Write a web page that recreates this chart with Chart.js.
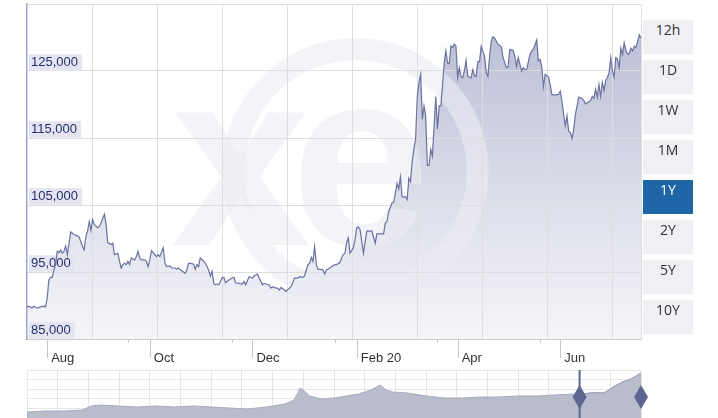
<!DOCTYPE html>
<html>
<head>
<meta charset="utf-8">
<script src="https://cdn.jsdelivr.net/npm/chart.js@4.4.1/dist/chart.umd.min.js"></script>
<style>
  body { margin:0; background:#fff; width:718px; height:418px; overflow:hidden; position:relative; }
  #mainCanvas { position:absolute; left:0; top:0; }
  #navCanvas { position:absolute; left:0; top:366px; }
  .btn { position:absolute; left:643px; width:50px; height:34px; line-height:34px; text-align:center;
         background:#f0f0f4; color:#333; font:14px "Open Sans", sans-serif; }
  .btn.on { background:#1f66a6; color:#fff; }
</style>
</head>
<body>
<canvas id="mainCanvas" width="718" height="366"></canvas>
<canvas id="navCanvas" width="718" height="52"></canvas>
<script>
// 1Y window, days counted from 2019-07-20
const dayOffsets = [0,2,3,4,6,8,10,11,12,13,14,15,16,17,18,19,20,21,22,23,24,25,26,28,30,31,33,34,35,36,37,38,39,40,42,43,44,46,47,48,50,51,52,54,55,56,57,58,59,60,61,62,64,65,66,67,68,70,71,72,73,74,76,77,78,79,81,82,83,85,86,88,89,90,92,94,95,96,97,99,100,101,102,103,105,106,108,109,110,111,112,113,114,116,117,118,120,122,123,124,126,128,129,130,132,134,135,137,138,139,140,141,143,144,145,146,148,149,150,151,153,154,156,157,158,159,161,162,164,165,166,167,168,169,170,171,172,173,175,176,177,178,180,181,183,184,186,187,188,189,190,191,192,194,195,196,197,198,200,202,205,207,208,212,213,214,215,217,218,219,220,221,222,223,225,226,227,228,229,230,231,232,233,234,235,236,237,238,239,240,241,242,243,244,245,246,247,248,249,250,251,252,253,254,255,256,257,258,259,260,261,262,264,265,266,267,268,269,270,272,273,274,275,276,277,278,280,282,283,285,286,287,289,290,291,292,294,295,296,297,299,300,301,303,304,305,306,307,308,310,311,312,314,316,317,318,319,320,321,322,323,324,325,326,328,330,331,332,334,335,336,337,338,339,340,341,342,343,344,345,346,347,348,349,350,351,352,353,354,355,356,357,358,359,360,361,362,363,364,365];
const rates = [89900,89800,89600,89900,89600,89800,89900,89800,91100,93800,94200,94200,95300,96100,98100,97900,98300,97800,98100,98900,97600,99300,101000,100600,100400,100200,98800,98300,100300,101100,102500,101200,102800,102100,101600,101800,102300,103600,102100,99400,99100,99300,97600,97800,96600,95600,96100,96300,96100,96600,96100,97100,96800,97300,98100,97100,96800,96800,96600,95800,96800,98200,97600,97300,97600,97300,98600,96300,95800,95900,95600,95600,95400,95600,95200,94800,95300,96300,96300,96200,95400,96100,95800,97100,96600,96300,95300,94400,95100,93300,93100,93200,93100,94100,94200,93400,93800,94100,94200,93400,93300,93200,93600,93100,94300,94100,94400,94700,94100,93600,93100,93300,93100,93100,92600,92800,92600,92600,92300,92700,92300,92100,92600,92800,93400,94100,94100,94300,94200,94400,95300,96100,96300,97200,96600,98800,96100,95400,95400,95300,94700,95300,95600,95800,96100,96100,96400,97100,97600,97800,99400,100100,97800,98600,99800,101600,101700,101300,97800,101100,101100,99300,100700,100700,102300,102500,104000,105300,105400,106800,108200,107400,109200,106200,106200,105800,109000,108500,111500,113300,114800,121200,123300,124500,117800,119800,118300,110900,110900,113300,112300,116800,121200,116300,119800,119800,122700,126200,128000,126200,126100,128700,128500,129000,128700,124000,125500,124200,124000,125000,126600,124200,124000,125200,124300,124200,126400,126400,128700,127200,124800,124200,127200,129500,130100,129900,129000,128600,127000,125500,125600,128200,128100,127200,125700,127000,125000,125500,125200,125200,127500,128000,128200,129600,126500,126700,125700,122700,124500,124100,123000,121500,121400,121500,122000,120500,118500,116800,118300,116000,115800,114900,116300,118500,121100,120900,120600,120100,120400,120600,121200,120900,122300,121100,123000,121200,123300,122100,123600,124000,124700,127000,125000,124100,127000,126800,125500,128400,127500,129200,128100,127500,127600,128400,128000,128700,128500,129500,130400,129900];

const monthTickDays = [12, 73, 134, 196, 256, 317];
const monthTickLabels = ['Aug', 'Oct', 'Dec', 'Feb 20', 'Apr', 'Jun'];
const minorTickDays = [60, 122, 183, 244, 305];
const rateTicks = [85000, 95000, 105000, 115000, 125000];
const rateGrid = [85000, 95000, 105000, 115000, 125000, 135000];
const gridDays = [38.65, 77.3, 115.95, 154.6, 193.25, 231.9, 270.55, 309.2, 347.85, 365];

// navigator: 10 years, in years from mid 2010
const navYears = [0,0.3,0.6,0.9,1.05,1.2,1.5,1.8,2.1,2.4,2.7,3.0,3.3,3.6,3.9,4.2,4.35,4.45,4.5,4.6,4.8,5.0,5.2,5.4,5.6,5.75,5.85,5.95,6.2,6.5,6.8,7.1,7.4,7.7,8.0,8.3,8.6,8.9,9.0,9.2,9.4,9.5,9.6,9.7,9.8,9.9,10];
const navRates = [51900,53900,53900,55800,63800,65700,63800,61800,63800,61800,63800,61800,59800,57800,61800,67700,75600,99400,95400,83600,77600,79600,83600,87500,95400,105300,95400,91500,89500,83600,79600,79600,81600,81600,83600,83600,85500,87500,87500,89500,89500,97400,105300,111300,115200,121200,129100];
const navWindowStart = 9;

const rangeButtons = ['12h', '1D', '1W', '1M', '1Y', '2Y', '5Y', '10Y'];
const selectedRange = '1Y';

rangeButtons.forEach((label, i) => {
    const b = document.createElement('div');
    b.className = 'btn' + (label === selectedRange ? ' on' : '');
    b.style.top = (20 + i * 40) + 'px';
    b.textContent = label;
    document.body.appendChild(b);
});

// faint "xe" mark, drawn over the fill but under grid and line
const watermark = {
    id: 'watermark',
    beforeDraw(chart) {
        const {ctx, chartArea: a} = chart;
        const w = a.right - a.left, h = a.bottom - a.top;
        ctx.save();
        ctx.beginPath();
        ctx.rect(a.left, a.top, w, h);
        ctx.clip();
        ctx.fillStyle = 'rgba(236,236,243,0.62)';
        ctx.strokeStyle = 'rgba(236,236,243,0.62)';
        ctx.font = 'bold 250px "Liberation Sans"';
        ctx.fillText('x', a.left + w * 0.235, a.top + h * 0.718);
        ctx.fillText('e', a.left + w * 0.43, a.top + h * 0.718);
        ctx.lineWidth = 22;
        ctx.beginPath();
        ctx.arc(a.left + w * 0.535, a.top + h * 0.5, h * 0.365, 0, Math.PI * 2);
        ctx.stroke();
        ctx.restore();
    }
};

// long month ticks and short in-between ticks under the axis
const axisTicks = {
    id: 'axisTicks',
    afterDraw(chart) {
        const {ctx, chartArea: a, scales} = chart;
        ctx.save();
        ctx.strokeStyle = '#c8c8c8';
        ctx.lineWidth = 1;
        monthTickDays.forEach(d => {
            const x = Math.round(scales.x.getPixelForValue(d)) + 0.5;
            ctx.beginPath(); ctx.moveTo(x, a.bottom); ctx.lineTo(x, a.bottom + 19); ctx.stroke();
        });
        minorTickDays.forEach(d => {
            const x = Math.round(scales.x.getPixelForValue(d)) + 0.5;
            ctx.beginPath(); ctx.moveTo(x, a.bottom); ctx.lineTo(x, a.bottom + 4); ctx.stroke();
        });
        ctx.restore();
    }
};

const fillGradient = (context) => {
    const {ctx, chartArea} = context.chart;
    if (!chartArea) return 'rgba(200,202,220,0.6)';
    const g = ctx.createLinearGradient(0, chartArea.top, 0, chartArea.bottom);
    g.addColorStop(0, 'rgb(182,186,211)');
    g.addColorStop(0.5, 'rgb(215,217,231)');
    g.addColorStop(1, 'rgb(245,245,249)');
    return g;
};

const noPad = s => { s.paddingTop = 0; s.paddingBottom = 0; s.paddingLeft = 0; s.paddingRight = 0; };

new Chart(document.getElementById('mainCanvas'), {
    type: 'line',
    data: {
        datasets: [{
            data: dayOffsets.map((d, i) => ({x: d, y: rates[i]})),
            borderColor: '#6a72a0',
            borderWidth: 1.2,
            pointRadius: 0,
            tension: 0,
            fill: 'start',
            backgroundColor: fillGradient
        }]
    },
    options: {
        responsive: false,
        animation: false,
        layout: {padding: {left: 27, right: 77, top: 4, bottom: 0}},
        plugins: {legend: {display: false}, tooltip: {enabled: false}, filler: {drawTime: 'beforeDraw'}},
        scales: {
            x: {
                type: 'linear', min: 0, max: 365,
                afterBuildTicks: s => { s.ticks = monthTickDays.map(v => ({value: v})); },
                afterFit: s => { s.height = 27; noPad(s); },
                ticks: {
                    callback: (v, i) => monthTickLabels[i],
                    align: 'start', labelOffset: 4, padding: 4, maxRotation: 0, autoSkip: false,
                    color: '#333', font: {family: 'Liberation Sans', size: 13}
                },
                grid: {display: false},
                border: {color: '#cfcfcf'}
            },
            xg: {
                type: 'linear', position: 'bottom', min: 0, max: 365,
                afterBuildTicks: s => { s.ticks = gridDays.map(v => ({value: v})); },
                afterFit: s => { s.height = 0; noPad(s); },
                ticks: {display: false},
                grid: {drawTicks: false, color: '#dedede'},
                border: {display: false}
            },
            y: {
                min: 85000, max: 135000,
                afterBuildTicks: s => { s.ticks = rateGrid.map(v => ({value: v})); },
                afterFit: s => { s.width = 0; noPad(s); },
                ticks: {display: false},
                grid: {color: '#dedede', drawTicks: false},
                border: {color: '#a3a3cf', width: 1.5}
            },
            yl: {
                position: 'left', min: 85000, max: 135000, z: 1,
                afterBuildTicks: s => { s.ticks = rateTicks.map(v => ({value: v})); },
                afterFit: s => { s.width = 0; noPad(s); },
                ticks: {
                    mirror: true, padding: 4, labelOffset: -9,
                    showLabelBackdrop: true, backdropColor: '#e5e5f1',
                    backdropPadding: {top: 0, bottom: 1, left: 2, right: 4},
                    color: '#252f6b', font: {family: 'Liberation Sans', size: 13},
                    callback: v => v.toLocaleString('en-US')
                },
                grid: {display: false},
                border: {display: false}
            }
        }
    },
    plugins: [watermark, axisTicks]
});

// navigator handles + window edge
const navWindow = {
    id: 'navWindow',
    afterDatasetsDraw(chart) {
        const {ctx, chartArea: a, scales} = chart;
        const xl = scales.x.getPixelForValue(navWindowStart);
        const xr = scales.x.getPixelForValue(10);
        const mid = a.top + 27;
        ctx.save();
        ctx.fillStyle = '#5d6590';
        ctx.fillRect(xl - 1, a.top, 2, a.bottom - a.top);
        [xl, xr].forEach(x => {
            ctx.beginPath();
            ctx.moveTo(x, mid - 12);
            ctx.lineTo(x + 7, mid);
            ctx.lineTo(x, mid + 12);
            ctx.lineTo(x - 7, mid);
            ctx.closePath();
            ctx.fill();
        });
        ctx.restore();
    }
};

new Chart(document.getElementById('navCanvas'), {
    type: 'line',
    data: {
        datasets: [{
            data: navYears.map((t, i) => ({x: t, y: navRates[i]})),
            borderColor: '#a7abbd', borderWidth: 1, pointRadius: 0, tension: 0,
            fill: 'start', backgroundColor: '#b9bdcb'
        }, {
            data: navYears.map((t, i) => ({x: t, y: t >= navWindowStart ? navRates[i] : null})),
            borderColor: '#4f5780', borderWidth: 1, pointRadius: 0, tension: 0,
            fill: 'start', backgroundColor: '#6b7399'
        }]
    },
    options: {
        responsive: false,
        animation: false,
        layout: {padding: {left: 27, right: 77, top: 4, bottom: 0}},
        plugins: {legend: {display: false}, tooltip: {enabled: false}},
        scales: {
            x: {
                type: 'linear', min: 0, max: 10,
                afterFit: noPad,
                ticks: {display: false, stepSize: 0.5},
                grid: {drawTicks: false, color: '#e6e6e6'},
                border: {display: false}
            },
            y: {
                min: 40000, max: 135000,
                afterFit: s => { s.width = 0; noPad(s); },
                ticks: {display: false, stepSize: 20000},
                grid: {drawTicks: false, color: '#e6e6e6'},
                border: {display: false}
            }
        }
    },
    plugins: [navWindow]
});
</script>
</body>
</html>
